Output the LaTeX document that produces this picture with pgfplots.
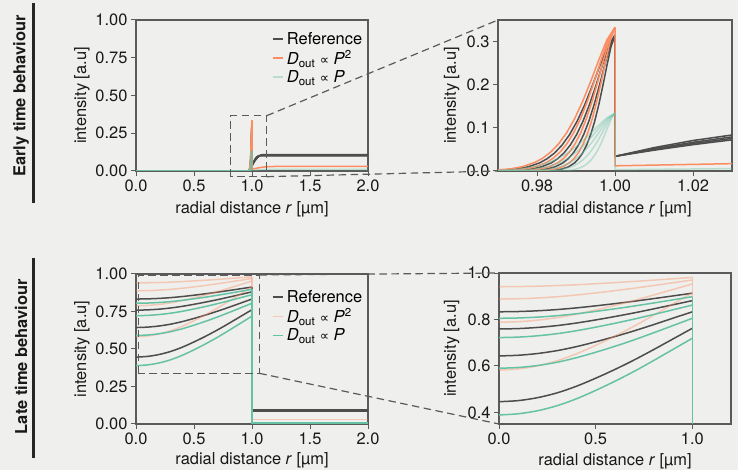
\documentclass[border=0pt]{standalone}
\usepackage{pgfplots}
\pgfplotsset{compat=1.18}
\usepackage{pgfplotstable}
\usepackage{fontspec}
\setmainfont{TeX Gyre Heros}
\newfontfamily\symfont{DejaVu Sans}
\definecolor{bg}{HTML}{EFEFED}
\definecolor{refc}{HTML}{4D4D4D}
\definecolor{orc}{HTML}{FC8D62}
\definecolor{grc}{HTML}{66C2A5}
\definecolor{lorc}{HTML}{F5C9B6}
\definecolor{lgrc}{HTML}{B9DDD0}
\definecolor{axc}{HTML}{5A5A5A}
\newcommand{\fs}{\fontsize{16.5}{19.8}\selectfont}
\newcommand{\Dout}{\textit{D}\textsubscript{out}}
\newcommand{\prop}{{\symfont\fontsize{13}{14}\selectfont ∝}}

% early time, inside the droplet (v = intensity, r1.. = radial positions of each curve)
\pgfplotstableread{
v r1 r2 r3 r4
0 0 0 0 0
0.0001 0.9588 0.9648 0.9708 0.9768
0.0005 0.96395 0.9692 0.97445 0.9797
0.0018 0.9691 0.9736 0.9781 0.9826
0.0050 0.97322 0.97712 0.98102 0.98492
0.0102 0.97631 0.97976 0.98321 0.98666
0.0197 0.9794 0.9824 0.9854 0.9884
0.0298 0.98146 0.98416 0.98686 0.98956
0.0440 0.98352 0.98592 0.98832 0.99072
0.0635 0.98558 0.98768 0.98978 0.99188
0.0894 0.98764 0.98944 0.99124 0.99304
0.1225 0.9897 0.9912 0.9927 0.9942
0.1628 0.99176 0.99296 0.99416 0.99536
0.2092 0.99382 0.99472 0.99562 0.99652
0.2586 0.99588 0.99648 0.99708 0.99768
0.3045 0.99794 0.99824 0.99854 0.99884
0.333 1 1 1 1
}\orangeE
\pgfplotstableread{
v r1 r2 r3 r4
0 0 0 0 0
0.0001 0.9612 0.9672 0.9732 0.9792
0.0005 0.96605 0.9713 0.97655 0.9818
0.0017 0.9709 0.9754 0.9799 0.9844
0.0048 0.97478 0.97868 0.98258 0.98648
0.0096 0.97769 0.98114 0.98459 0.98804
0.0186 0.9806 0.9836 0.9866 0.9896
0.0282 0.98254 0.98524 0.98794 0.99064
0.0416 0.98448 0.98688 0.98928 0.99168
0.0601 0.98642 0.98852 0.99062 0.99272
0.0846 0.98836 0.99016 0.99196 0.99376
0.1159 0.9903 0.9918 0.9933 0.9948
0.1540 0.99224 0.99344 0.99464 0.99584
0.1979 0.99418 0.99508 0.99598 0.99688
0.2446 0.99612 0.99672 0.99732 0.99792
0.2880 0.99806 0.99836 0.99866 0.99896
0.315 1 1 1 1
}\greyE
\pgfplotstableread{
v r1 r2 r3 r4 r5
0 0 0 0 0 0
0.0000 0.956 0.9632 0.97 0.9764 0.9824
0.0002 0.9615 0.9678 0.97375 0.97935 0.9846
0.0007 0.967 0.9724 0.9775 0.9823 0.9868
0.0020 0.9714 0.97608 0.9805 0.98466 0.98856
0.0041 0.9747 0.97884 0.98275 0.98643 0.98988
0.0079 0.978 0.9816 0.985 0.9882 0.9912
0.0120 0.9802 0.98344 0.9865 0.98938 0.99208
0.0177 0.9824 0.98528 0.988 0.99056 0.99296
0.0256 0.9846 0.98712 0.9895 0.99174 0.99384
0.0360 0.9868 0.98896 0.991 0.99292 0.99472
0.0493 0.989 0.9908 0.9925 0.9941 0.9956
0.0655 0.9912 0.99264 0.994 0.99528 0.99648
0.0842 0.9934 0.99448 0.9955 0.99646 0.99736
0.1041 0.9956 0.99632 0.997 0.99764 0.99824
0.1225 0.9978 0.99816 0.9985 0.99882 0.99912
0.134 1 1 1 1 1
}\greenE
% early time, outside the droplet (reference curves)
\pgfplotstableread{
r v
1 0.315
1 0.034
1.01 0.0542
1.02 0.0707
1.03 0.0835
1.04 0.0927
1.05 0.0982
1.06 0.1
2 0.1
}\greyOutA
\pgfplotstableread{
r v
1 0.315
1 0.034
1.01 0.0516
1.02 0.0666
1.03 0.0791
1.04 0.0889
1.05 0.0962
1.06 0.1008
1.073 0.103
2 0.103
}\greyOutB
\pgfplotstableread{
r v
1 0.315
1 0.034
1.01 0.0498
1.02 0.0636
1.03 0.0755
1.04 0.0854
1.05 0.0934
1.06 0.0994
1.07 0.1035
1.086 0.106
2 0.106
}\greyOutC
\pgfplotstableread{
r v
1 0.315
1 0.034
1.01 0.0482
1.02 0.0610
1.03 0.0722
1.04 0.0820
1.05 0.0902
1.06 0.0970
1.07 0.1023
1.08 0.1060
1.09 0.1083
1.1 0.109
2 0.109
}\greyOutD
% late time, inside the droplet
\pgfplotstableread{
r g1 g2 g3 g4 o1 o2 o3 o4 n1 n2 n3 n4
0.0 0.833 0.759 0.643 0.446 0.941 0.888 0.788 0.582 0.805 0.722 0.590 0.389
0.1 0.8342 0.7608 0.6459 0.4507 0.9416 0.8892 0.7905 0.5870 0.8064 0.7241 0.5932 0.3940
0.2 0.8374 0.7657 0.6535 0.4634 0.9432 0.8925 0.7971 0.6003 0.8101 0.7297 0.6018 0.4072
0.3 0.8426 0.7736 0.6658 0.4839 0.9458 0.8978 0.8078 0.6220 0.8162 0.7388 0.6158 0.4286
0.4 0.8498 0.7846 0.6829 0.5124 0.9494 0.9052 0.8227 0.6519 0.8245 0.7514 0.6352 0.4583
0.5 0.8586 0.7980 0.7038 0.5471 0.9538 0.9142 0.8408 0.6886 0.8348 0.7668 0.6588 0.4946
0.6 0.8682 0.8127 0.7266 0.5850 0.9586 0.9241 0.8606 0.7285 0.8459 0.7836 0.6846 0.5342
0.7 0.8786 0.8285 0.7513 0.6261 0.9638 0.9347 0.8821 0.7718 0.8580 0.8018 0.7126 0.5771
0.8 0.8898 0.8456 0.7779 0.6704 0.9694 0.9462 0.9052 0.8184 0.8710 0.8214 0.7427 0.6233
0.9 0.9014 0.8633 0.8055 0.7162 0.9752 0.9581 0.9291 0.8667 0.8845 0.8417 0.7738 0.6712
1.0 0.913 0.881 0.833 0.762 0.981 0.970 0.953 0.915 0.898 0.862 0.805 0.719
}\lateT

\pgfplotsset{
  panel/.style={
    scale only axis, anchor=south west,
    axis line style={draw=axc, line width=1.2bp},
    major tick style={draw=axc, line width=1bp},
    major tick length=5bp,
    tick align=outside,
    tick pos=left,
    tick label style={font=\fs, text=black!90},
    xlabel={radial distance \textit{r} [µm]},
    ylabel={intensity [a.u]},
    no markers,
    every axis plot/.append style={line width=1.5bp},
  },
  leg/.style={
    legend style={draw=none, fill=none, font=\fs, at={(axis description cs:0.585,#1)}, anchor=north west,
      row sep=3.5bp, column sep=3bp, inner sep=0pt, nodes={inner sep=0.5bp}},
    legend cell align=left,
  },
}

\begin{document}
\begin{tikzpicture}
\fill[white] (0,0) rectangle (738bp,476bp);
\fill[bg] (0,6bp) rectangle (738bp,476bp);
\path[use as bounding box] (0,0) rectangle (738bp,476bp);

% ---------------- top left ----------------
\begin{axis}[panel, leg=0.925,
  at={(136bp,305bp)}, width=232bp, height=151bp,
  xmin=0, xmax=2, ymin=0, ymax=1,
  xtick={0,0.5,1,1.5,2}, xticklabels={0.0,0.5,1.0,1.5,2.0},
  ytick={0,0.25,0.5,0.75,1}, yticklabels={0.00,0.25,0.50,0.75,1.00},
  every axis x label/.style={at={(axis description cs:0.5,-0.252)}, anchor=center, font=\fs, text=black!90},
  every axis y label/.style={at={(axis description cs:-0.233,0.5)}, anchor=center, rotate=90, font=\fs, text=black!90},
  legend image code/.code={\draw[#1] (0bp,0bp) -- (10bp,0bp);},
]
\addplot[refc, forget plot] table[x=r1,y=v]{\greyE};
\addplot[refc, forget plot] table[x=r2,y=v]{\greyE};
\addplot[refc, forget plot] table[x=r3,y=v]{\greyE};
\addplot[refc, forget plot] table[x=r4,y=v]{\greyE};
\addplot[refc, forget plot] table[x=r,y=v]{\greyOutA};
\addplot[refc, forget plot] table[x=r,y=v]{\greyOutB};
\addplot[refc, forget plot] table[x=r,y=v]{\greyOutC};
\addplot[refc, forget plot] table[x=r,y=v]{\greyOutD};
\addplot[orc, forget plot] table[x=r1,y=v]{\orangeE};
\addplot[orc, forget plot] table[x=r2,y=v]{\orangeE};
\addplot[orc, forget plot] table[x=r3,y=v]{\orangeE};
\addplot[orc, forget plot] table[x=r4,y=v]{\orangeE};
\addplot[orc, forget plot] coordinates {(1,0.333)(1,0.012)(1.03,0.017)(1.06,0.0215)(1.09,0.025)(1.12,0.0275)(1.16,0.0293)(1.2,0.03)(2,0.03)};
\addplot[grc, opacity=0.4, forget plot] table[x=r1,y=v]{\greenE};
\addplot[grc, opacity=0.4, forget plot] table[x=r2,y=v]{\greenE};
\addplot[grc, opacity=0.4, forget plot] table[x=r3,y=v]{\greenE};
\addplot[grc, opacity=0.4, forget plot] table[x=r4,y=v]{\greenE};
\addplot[grc, opacity=0.4, forget plot] table[x=r5,y=v]{\greenE};
\addplot[grc, opacity=0.4, forget plot] coordinates {(1,0.134)(1,0.003)(1.03,0.0055)(1.06,0.0075)(1.09,0.0089)(1.12,0.0097)(1.15,0.01)(2,0.01)};
\addlegendimage{draw=refc, line width=1.5bp}
\addlegendimage{draw=orc, line width=1.5bp}
\addlegendimage{draw=lgrc, line width=1.5bp}
\legend{Reference, \Dout\ \prop\ \textit{P}\textsuperscript{2}, \Dout\ \prop\ \textit{P}}
\end{axis}

% ---------------- top right ----------------
\begin{axis}[panel,
  at={(498bp,305bp)}, width=234bp, height=151bp,
  xmin=0.97, xmax=1.03, ymin=0, ymax=0.35,
  xtick={0.98,1,1.02}, xticklabels={0.98,1.00,1.02},
  ytick={0,0.1,0.2,0.3}, yticklabels={0.0,0.1,0.2,0.3},
  every axis x label/.style={at={(axis description cs:0.5,-0.252)}, anchor=center, font=\fs, text=black!90},
  every axis y label/.style={at={(axis description cs:-0.198,0.5)}, anchor=center, rotate=90, font=\fs, text=black!90},
]
\addplot[refc] table[x=r1,y=v]{\greyE};
\addplot[refc] table[x=r2,y=v]{\greyE};
\addplot[refc] table[x=r3,y=v]{\greyE};
\addplot[refc] table[x=r4,y=v]{\greyE};
\addplot[refc] table[x=r,y=v]{\greyOutA};
\addplot[refc] table[x=r,y=v]{\greyOutB};
\addplot[refc] table[x=r,y=v]{\greyOutC};
\addplot[refc] table[x=r,y=v]{\greyOutD};
\addplot[orc] table[x=r1,y=v]{\orangeE};
\addplot[orc] table[x=r2,y=v]{\orangeE};
\addplot[orc] table[x=r3,y=v]{\orangeE};
\addplot[orc] table[x=r4,y=v]{\orangeE};
\addplot[orc] coordinates {(1,0.333)(1,0.012)(1.03,0.017)(1.06,0.0215)(1.09,0.025)(1.12,0.0275)(1.16,0.0293)(1.2,0.03)(2,0.03)};
\addplot[grc, opacity=0.4] table[x=r1,y=v]{\greenE};
\addplot[grc, opacity=0.4] table[x=r2,y=v]{\greenE};
\addplot[grc, opacity=0.4] table[x=r3,y=v]{\greenE};
\addplot[grc, opacity=0.4] table[x=r4,y=v]{\greenE};
\addplot[grc, opacity=0.4] table[x=r5,y=v]{\greenE};
\addplot[grc, opacity=0.4] coordinates {(1,0.134)(1,0.003)(1.03,0.0055)(1.06,0.0075)(1.09,0.0089)(1.12,0.0097)(1.15,0.01)(2,0.01)};
\end{axis}

% ---------------- bottom left ----------------
\begin{axis}[panel, leg=0.895,
  at={(136bp,52bp)}, width=232bp, height=150bp,
  xmin=0, xmax=2, ymin=0, ymax=1,
  xtick={0,0.5,1,1.5,2}, xticklabels={0.0,0.5,1.0,1.5,2.0},
  ytick={0,0.25,0.5,0.75,1}, yticklabels={0.00,0.25,0.50,0.75,1.00},
  every axis x label/.style={at={(axis description cs:0.5,-0.245)}, anchor=center, font=\fs, text=black!90},
  every axis y label/.style={at={(axis description cs:-0.233,0.5)}, anchor=center, rotate=90, font=\fs, text=black!90},
  legend image code/.code={\draw[#1] (0bp,0bp) -- (10bp,0bp);},
]
\addplot[refc, smooth, forget plot] table[x=r,y=g1]{\lateT};
\addplot[refc, smooth, forget plot] table[x=r,y=g2]{\lateT};
\addplot[refc, smooth, forget plot] table[x=r,y=g3]{\lateT};
\addplot[refc, smooth, forget plot] table[x=r,y=g4]{\lateT};
\addplot[refc, forget plot] coordinates {(1,0.913)(1,0.097)(2,0.097)};
\addplot[refc, forget plot] coordinates {(1,0.881)(1,0.092)(2,0.092)};
\addplot[refc, forget plot] coordinates {(1,0.833)(1,0.087)(2,0.087)};
\addplot[refc, forget plot] coordinates {(1,0.762)(1,0.082)(2,0.082)};
\addplot[orc, opacity=0.4, smooth, forget plot] table[x=r,y=o1]{\lateT};
\addplot[orc, opacity=0.4, smooth, forget plot] table[x=r,y=o2]{\lateT};
\addplot[orc, opacity=0.4, smooth, forget plot] table[x=r,y=o3]{\lateT};
\addplot[orc, opacity=0.4, smooth, forget plot] table[x=r,y=o4]{\lateT};
\addplot[orc, opacity=0.4, forget plot] coordinates {(1,0.981)(1,0.031)(2,0.031)};
\addplot[grc, smooth, forget plot] table[x=r,y=n1]{\lateT};
\addplot[grc, smooth, forget plot] table[x=r,y=n2]{\lateT};
\addplot[grc, smooth, forget plot] table[x=r,y=n3]{\lateT};
\addplot[grc, smooth, forget plot] table[x=r,y=n4]{\lateT};
\addplot[grc, forget plot] coordinates {(1,0.898)(1,0.007)(2,0.007)};
\addlegendimage{draw=refc, line width=1.5bp}
\addlegendimage{draw=lorc, line width=1.5bp}
\addlegendimage{draw=grc, line width=1.5bp}
\legend{Reference, \Dout\ \prop\ \textit{P}\textsuperscript{2}, \Dout\ \prop\ \textit{P}}
\end{axis}

% ---------------- bottom right ----------------
\begin{axis}[panel,
  at={(499bp,52bp)}, width=232bp, height=151bp,
  xmin=0, xmax=1.2, ymin=0.35, ymax=1,
  xtick={0,0.5,1}, xticklabels={0.0,0.5,1.0},
  ytick={0.4,0.6,0.8,1}, yticklabels={0.4,0.6,0.8,1.0},
  every axis x label/.style={at={(axis description cs:0.5,-0.245)}, anchor=center, font=\fs, text=black!90},
  every axis y label/.style={at={(axis description cs:-0.204,0.5)}, anchor=center, rotate=90, font=\fs, text=black!90},
]
\addplot[refc, smooth] table[x=r,y=g1]{\lateT};
\addplot[refc, smooth] table[x=r,y=g2]{\lateT};
\addplot[refc, smooth] table[x=r,y=g3]{\lateT};
\addplot[refc, smooth] table[x=r,y=g4]{\lateT};
\addplot[orc, opacity=0.4, smooth] table[x=r,y=o1]{\lateT};
\addplot[orc, opacity=0.4, smooth] table[x=r,y=o2]{\lateT};
\addplot[orc, opacity=0.4, smooth] table[x=r,y=o3]{\lateT};
\addplot[orc, opacity=0.4, smooth] table[x=r,y=o4]{\lateT};
\addplot[orc, opacity=0.4] coordinates {(1,0.981)(1,0.031)(2,0.031)};
\addplot[grc, smooth] table[x=r,y=n1]{\lateT};
\addplot[grc, smooth] table[x=r,y=n2]{\lateT};
\addplot[grc, smooth] table[x=r,y=n3]{\lateT};
\addplot[grc, smooth] table[x=r,y=n4]{\lateT};
\addplot[grc] coordinates {(1,0.898)(1,0.007)(2,0.007)};
\end{axis}

% zoom indicators
\begin{scope}[axc, line width=1.2bp, dash pattern=on 7.5bp off 4.5bp]
\draw (230.5bp,299.3bp) rectangle (266.7bp,360.3bp);
\draw (266.7bp,360.3bp) -- (498bp,456bp);
\draw (266.7bp,299.3bp) -- (498bp,305bp);
\draw (138.3bp,102.7bp) rectangle (259.3bp,201bp);
\draw (259.3bp,201bp) -- (499bp,203bp);
\draw (259.3bp,102.7bp) -- (499bp,52bp);
\end{scope}

% row labels
\node[rotate=90, font=\bfseries\fs, text=black!90] at (21bp,380bp) {Early time behaviour};
\node[rotate=90, font=\bfseries\fs, text=black!90] at (21bp,119.3bp) {Late time behaviour};
\draw[black!85, line width=3bp] (33bp,472.7bp) -- (33bp,273bp);
\draw[black!85, line width=3bp] (33bp,218bp) -- (33bp,18bp);
\end{tikzpicture}
\end{document}
